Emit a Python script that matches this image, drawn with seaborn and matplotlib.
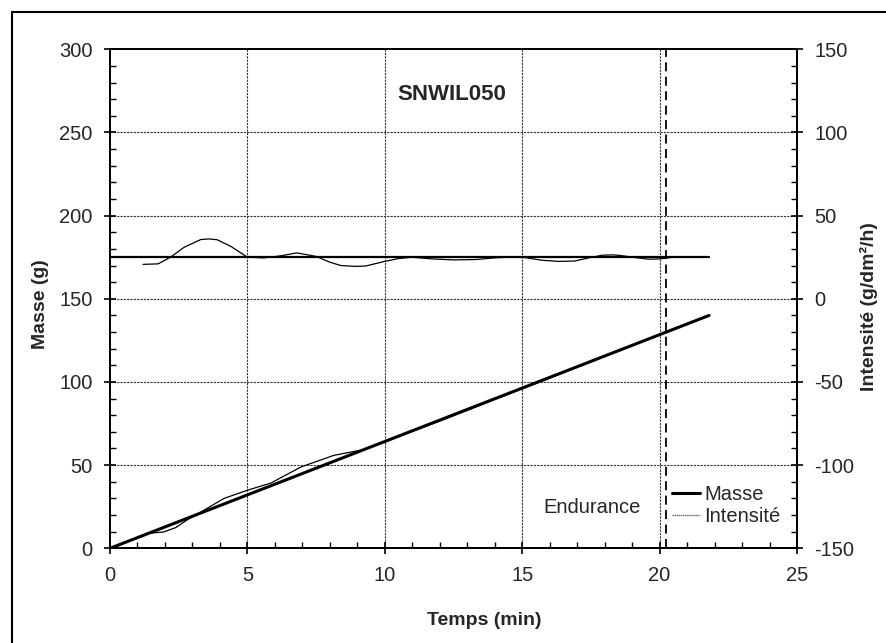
import matplotlib
matplotlib.use("Agg")
import matplotlib.pyplot as plt
import seaborn as sns
import numpy as np
from matplotlib.ticker import MultipleLocator
from matplotlib.lines import Line2D

## data
t_int = [1.2, 1.75, 2.2, 2.7, 3.3, 3.6, 3.9, 4.4, 5.0, 5.6, 6.2, 6.8, 7.5, 8.0, 8.4, 8.9, 9.3,
         10.0, 10.5, 11.0, 11.7, 12.5, 13.3, 14.0, 14.5, 15.1, 15.7, 16.3, 16.9, 17.4, 17.9,
         18.3, 18.6, 19.1, 19.6, 20.0, 20.5, 21.0, 21.8]
intensite = [20.7, 21.0, 25.0, 31.0, 35.6, 36.0, 35.5, 31.5, 25.0, 24.6, 25.8, 27.6, 25.5, 22.0,
             20.0, 19.5, 19.7, 22.5, 24.2, 25.0, 24.0, 23.4, 23.6, 24.6, 25.0, 24.8, 23.2, 22.5,
             22.7, 24.5, 26.2, 26.4, 26.0, 24.8, 23.8, 24.0, 25.0, 25.2, 25.0]

t_masse = [0.0, 0.7, 1.4, 1.95, 2.4, 2.8, 3.1, 4.15, 5.0, 5.85, 6.95, 8.15, 9.1, 9.3, 10.0,
           12.0, 14.0, 16.0, 18.0, 20.0, 21.8]
masse = [0.0, 4.5, 9.0, 9.8, 12.5, 17.0, 19.8, 30.0, 34.9, 39.2, 48.9, 55.9, 58.9, 59.7, 64.2,
         76.5, 89.5, 102.3, 115.6, 128.3, 140.0]

t_consigne = [0.0, 21.8]
masse_consigne = [0.0, 140.0]
intensite_consigne = [25.0, 25.0]

t_fin = 20.25  # dashed line, end of endurance
titre = "SNWIL050"

## figure
sns.set_style("white")
plt.rcParams['font.family'] = ['Liberation Sans', 'DejaVu Sans']
plt.rcParams['axes.unicode_minus'] = False

fig = plt.figure(figsize=(8.87, 6.43), dpi=100)
ax = fig.add_axes([110/887, 1-548.3/643, 687/887, 499/643])
ax2 = ax.twinx()

grid_kw = dict(color='#333333', lw=0.8, ls=(0, (2, 1)), zorder=0)
for xx in [5, 10, 15, 20]:
    ax.axvline(xx, **grid_kw)
for yy in [50, 100, 150, 200, 250]:
    ax.axhline(yy, **grid_kw)

sns.lineplot(x=t_consigne, y=masse_consigne, ax=ax, color='black', lw=2.2)
sns.lineplot(x=t_masse, y=masse, ax=ax, color='black', lw=0.9)
sns.lineplot(x=t_consigne, y=intensite_consigne, ax=ax2, color='black', lw=1.6)
sns.lineplot(x=t_int, y=intensite, ax=ax2, color='black', lw=0.9)
ax.axvline(t_fin, color='black', lw=1.3, ls=(0, (5, 3)))

ax.set_xlim(0, 25)
ax.set_ylim(0, 300)
ax2.set_ylim(-150, 150)
ax.xaxis.set_major_locator(MultipleLocator(5))
ax.xaxis.set_minor_locator(MultipleLocator(1))
ax.yaxis.set_major_locator(MultipleLocator(50))
ax.yaxis.set_minor_locator(MultipleLocator(10))
ax2.yaxis.set_major_locator(MultipleLocator(50))
ax2.yaxis.set_minor_locator(MultipleLocator(10))

for a in (ax, ax2):
    a.tick_params(which='major', direction='inout', length=9, width=1.2, labelsize=14.5,
                  pad=8, color='black')
    a.tick_params(which='minor', direction='in', length=4.5, width=1, color='black')
    for s in a.spines.values():
        s.set_color('black')
        s.set_linewidth(1.4)
ax.tick_params(axis='x', which='both', bottom=True)
ax.tick_params(axis='y', which='both', left=True)
ax2.tick_params(axis='y', which='both', right=True)

ax.set_xlabel("Temps (min)", fontsize=14, fontweight='bold')
ax.set_ylabel("Masse (g)", fontsize=14, fontweight='bold')
ax2.set_ylabel("Intensité (g/dm²/h)", fontsize=14, fontweight='bold')
ax.xaxis.set_label_coords(0.545, -0.128)
ax.yaxis.set_label_coords(-0.089, 0.49)
ax2.yaxis.set_label_coords(1.092, 0.485)

ax.text(12.45, 273, titre, fontsize=16, fontweight='bold', ha='center', va='center')
ax.text(17.55, 24.6, "Endurance", fontsize=14.5, ha='center', va='center')

handles = [Line2D([], [], color='black', lw=2.2), Line2D([], [], color='#666666', lw=1, ls=(0, (1, 0.5)))]
ax2.legend(handles, ["Masse", "Intensité"], loc='center left', bbox_to_anchor=(0.818, 0.086),
           frameon=False, fontsize=14.5, handlelength=1.4, handletextpad=0.2, labelspacing=0.15,
           borderaxespad=0, borderpad=0)

# chart area border
fig.add_artist(Line2D([12/887, 12/887], [0, 1-12/643], transform=fig.transFigure, color='black', lw=1.5))
fig.add_artist(Line2D([12/887, 1], [1-12/643, 1-12/643], transform=fig.transFigure, color='black', lw=1.5))

fig.savefig("out.png", dpi=100)
